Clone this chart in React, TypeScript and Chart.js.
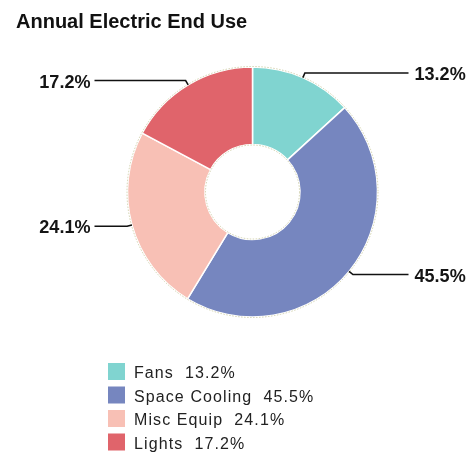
import React, { useEffect, useRef } from 'react';
import { Chart, registerables } from 'chart.js';

Chart.register(...registerables);

const TITLE = 'Annual Electric End Use';
const categories = ['Fans', 'Space Cooling', 'Misc Equip', 'Lights'];
const values = [13.2, 45.5, 24.1, 17.2];
const colors = ['#80d4d0', '#7686bf', '#f8c0b5', '#e0646b'];

const W = 473;
const H = 453;

const fmt = (v: number) => v.toFixed(1) + '%';

const decorPlugin = {
  id: 'decor',
  afterDatasetsDraw(chart: any) {
    const ctx: CanvasRenderingContext2D = chart.ctx;
    const meta = chart.getDatasetMeta(0);
    if (!meta.data.length) return;
    const a0 = meta.data[0].getProps(['x', 'y', 'outerRadius', 'innerRadius'], true);
    // dotted outline around ring
    ctx.save();
    ctx.strokeStyle = 'rgba(196,196,150,0.75)';
    ctx.lineWidth = 1;
    ctx.setLineDash([1.5, 1.5]);
    ctx.beginPath();
    ctx.arc(a0.x, a0.y, a0.outerRadius + 0.5, 0, Math.PI * 2);
    ctx.stroke();
    ctx.beginPath();
    ctx.arc(a0.x, a0.y, a0.innerRadius - 0.5, 0, Math.PI * 2);
    ctx.stroke();
    ctx.restore();

    // callouts
    meta.data.forEach((arc: any, i: number) => {
      const { x, y, startAngle, endAngle, outerRadius } = arc.getProps(
        ['x', 'y', 'startAngle', 'endAngle', 'outerRadius'],
        true
      );
      const mid = (startAngle + endAngle) / 2;
      const cx = Math.cos(mid);
      const cy = Math.sin(mid);
      const px = x + cx * outerRadius;
      const py = y + cy * outerRadius;
      const ex = x + cx * (outerRadius + 5);
      const ey = y + cy * (outerRadius + 5);
      const right = cx >= 0;
      const lx = right ? x + outerRadius + 31 : x - outerRadius - 33;
      ctx.save();
      ctx.strokeStyle = '#111';
      ctx.lineWidth = 1.6;
      ctx.beginPath();
      ctx.moveTo(px, py);
      ctx.lineTo(ex, ey);
      ctx.lineTo(lx, ey);
      ctx.stroke();
      ctx.restore();

      ctx.save();
      ctx.fillStyle = '#151515';
      ctx.font = 'bold 19px "Liberation Sans", Arial, sans-serif';
      ctx.textBaseline = 'alphabetic';
      const txt = fmt(values[i]);
      const sx = 0.95;
      if (right) {
        ctx.translate(lx + 6, ey + 7);
        ctx.scale(sx, 1);
        ctx.textAlign = 'left';
        ctx.fillText(txt, 0, 0);
      } else {
        ctx.translate(lx - 4, ey + 7);
        ctx.scale(sx, 1);
        ctx.textAlign = 'right';
        ctx.fillText(txt, 0, 0);
      }
      ctx.restore();
    });
  },
  afterDraw(chart: any) {
    const ctx: CanvasRenderingContext2D = chart.ctx;
    // title
    ctx.save();
    ctx.fillStyle = '#111';
    ctx.font = 'bold 20px "Liberation Sans", Arial, sans-serif';
    ctx.textAlign = 'left';
    ctx.textBaseline = 'alphabetic';
    ctx.fillText(TITLE, 16, 28);
    ctx.restore();

    // legend
    const ds = chart.data.datasets[0];
    categories.forEach((name, i) => {
      const top = 363 + i * 23.5;
      ctx.save();
      ctx.fillStyle = ds.backgroundColor[i];
      ctx.fillRect(108, top, 17, 17);
      ctx.fillStyle = '#222';
      ctx.font = '16px "Liberation Sans", Arial, sans-serif';
      (ctx as any).letterSpacing = '1.1px';
      ctx.textAlign = 'left';
      ctx.textBaseline = 'alphabetic';
      ctx.fillText(name + '  ' + fmt(values[i]), 134, top + 15);
      ctx.restore();
    });
  },
};

export default function App() {
  const ref = useRef<HTMLCanvasElement | null>(null);
  useEffect(() => {
    document.body.style.margin = '0';
    if (!ref.current) return;
    const chart = new Chart(ref.current, {
      type: 'doughnut',
      data: {
        labels: categories,
        datasets: [
          {
            data: values,
            backgroundColor: colors,
            borderColor: '#ffffff',
            borderWidth: 1.5,
            hoverOffset: 0,
          } as any,
        ],
      },
      options: {
        responsive: false,
        animation: false,
        radius: 125,
        cutout: '38%',
        layout: { padding: { left: 40, right: 8, top: 60, bottom: 129 } },
        plugins: {
          legend: { display: false },
          title: { display: false },
          tooltip: { enabled: false },
        },
        events: [],
      } as any,
      plugins: [decorPlugin],
    });
    return () => chart.destroy();
  }, []);
  return (
    <div style={{ width: W, height: H, background: '#fff' }}>
      <canvas ref={ref} width={W} height={H} style={{ display: 'block', width: W, height: H }} />
    </div>
  );
}
